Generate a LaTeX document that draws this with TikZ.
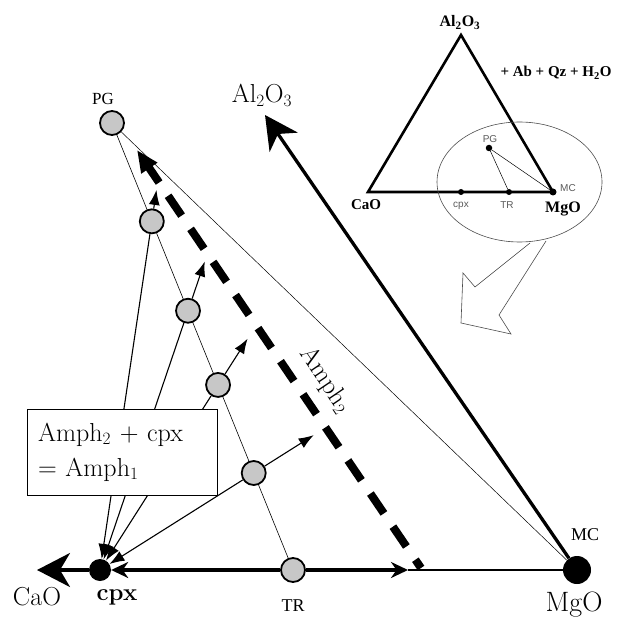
\documentclass[tikz,border=0pt]{standalone}
\usepackage{fontspec}
\newfontfamily\timesfont{Liberation Serif}
\newfontfamily\arialfont{Liberation Sans}
\usepackage{tikz}
\usetikzlibrary{arrows.meta, calc}

\begin{document}
\begin{tikzpicture}[
    x=1pt, y=-1pt,
    phase/.style={circle, draw, line width=1.8pt, fill=black!22, minimum size=24pt, inner sep=0pt},
    endmember/.style={circle, fill=black, inner sep=0pt},
    tie/.style={line width=0.6pt},
    reaction/.style={line width=1.1pt, -{Latex[length=15pt, width=11pt]}},
    axis/.style={line width=3.3pt, -{Stealth[length=33pt, width=34pt, inset=10pt]}},
    mainlabel/.style={font=\fontsize{26}{30}\selectfont, inner sep=0pt, anchor=base},
    insetlabel/.style={font=\timesfont\bfseries\fontsize{15}{17}\selectfont, inner sep=0pt, anchor=base},
    insetphase/.style={font=\arialfont\fontsize{10}{12}\selectfont, text=black!65, inner sep=0pt, anchor=base},
    dot/.style={circle, fill=black, inner sep=0pt, minimum size=6.5pt}
]
\useasboundingbox (0,0) rectangle (616,617);

% main diagram
\node[endmember, minimum size=22pt] (cpx) at (100,570) {};
\node[endmember, minimum size=28pt] (mgo) at (577,570) {};
\node[phase] (pg) at (112,123) {};
\node[phase] (tr) at (293,570) {};
\node[phase] (c1) at ($(pg)!0.22!(tr)$) {};
\node[phase] (c2) at ($(pg)!0.42!(tr)$) {};
\node[phase] (c3) at ($(pg)!0.586!(tr)$) {};
\node[phase] (c4) at ($(pg)!0.783!(tr)$) {};

\coordinate (caotip) at (37,570);
\coordinate (altip) at (265,115);
\coordinate (arrowend) at (408,570);
\coordinate (dashlow) at (421,568);
\coordinate (dashtop) at (137,150);
\coordinate (a1) at ($(cpx)!1.09!(c1)$);
\coordinate (a2) at ($(cpx)!1.19!(c2)$);
\coordinate (a3) at ($(cpx)!1.25!(c3)$);
\coordinate (a4) at ($(cpx)!1.39!(c4)$);

\draw[axis] (cpx) -- (caotip);
\draw[axis] (mgo) -- (altip);
\draw[line width=3.5pt, {Stealth[length=17pt, width=16pt]}-] (cpx) -- (tr);
\draw[line width=3.5pt, -{Stealth[length=17pt, width=16pt]}] (tr) -- (arrowend);
\draw[line width=2.8pt] (arrowend) -- (mgo);

\draw[tie] (pg) -- (c1) -- (c2) -- (c3) -- (c4) -- (tr);
\draw[tie, line width=0.5pt] (pg) -- (mgo);
\draw[line width=8pt, dash pattern=on 24pt off 16pt, dash phase=14pt,
      -{Triangle[length=22pt, width=18pt]}] (dashlow) -- (dashtop);

\draw[reaction] (c1) -- (a1);
\draw[reaction] (c1) -- (cpx);
\draw[reaction] (c2) -- (a2);
\draw[reaction] (c2) -- (cpx);
\draw[reaction] (c3) -- (a3);
\draw[reaction] (c3) -- (cpx);
\draw[reaction] (c4) -- (a4);
\draw[reaction] (c4) -- (cpx);

\node[font=\timesfont\fontsize{17}{17}\selectfont, inner sep=0pt, anchor=base] (pgname) at (103,105) {PG};
\node[font=\timesfont\fontsize{18}{18}\selectfont, inner sep=0pt, anchor=base] (trname) at (293,611) {TR};
\node[font=\timesfont\fontsize{18}{18}\selectfont, inner sep=0pt, anchor=base] (mcname) at (585,540) {MC};
\node[mainlabel] (alname) at (262,103) {Al$_2$O$_3$};
\node[mainlabel] (caoname) at (37,605) {CaO};
\node[mainlabel, font=\bfseries\fontsize{24}{28}\selectfont] (cpxname) at (117,600) {cpx};
\node[mainlabel, font=\fontsize{28}{30}\selectfont] (mgoname) at (574,611) {MgO};
\node[mainlabel, anchor=center, rotate=-56] (amphname) at (325,380) {Amph$_2$};

\node[draw, fill=white, line width=0.8pt, font=\fontsize{26}{35}\selectfont, align=left,
      text width=168pt, inner xsep=11pt, minimum height=86pt] (rxnbox) at (122,452)
      {Amph$_2$ + cpx\\= Amph$_1$};

% inset triangle
\coordinate (ialo) at (461,35);
\coordinate (icao) at (368,192);
\coordinate (imgo) at (553,192);
\draw[line width=2.6pt] (ialo) -- (icao) -- (imgo) -- cycle;

\node[dot] (ipg) at (489,148) {};
\node[dot, minimum size=6pt] (icpx) at (461,192) {};
\node[dot, minimum size=6pt] (itr) at (509,192) {};
\node[dot, minimum size=7pt] (imc) at (553,192) {};
\draw[line width=0.5pt] (ipg) -- (itr);
\draw[line width=0.5pt] (ipg) -- (imc);

\draw[line width=0.6pt, black!70] (519.5,182) ellipse [x radius=82.5pt, y radius=60pt];
\draw[line width=0.6pt, black!70] (530,243) -- (475,287) -- (463,273) -- (461,323)
      -- (511,334) -- (499,315) -- (546,241);

\node[insetlabel, font=\timesfont\bfseries\fontsize{16}{17}\selectfont] (ialname) at (460,27) {Al\textsubscript{2}O\textsubscript{3}};
\node[insetlabel, font=\timesfont\bfseries\fontsize{15}{17}\selectfont] (iextra) at (556,77) {+ Ab + Qz + H\textsubscript{2}O};
\node[insetlabel] (icaoname) at (366,210) {CaO};
\node[insetlabel, font=\timesfont\bfseries\fontsize{16}{17}\selectfont] (imgoname) at (563,213) {MgO};
\node[insetphase] (ipgname) at (490,143) {PG};
\node[insetphase] (icpxname) at (461,208) {cpx};
\node[insetphase] (itrname) at (507,209) {TR};
\node[insetphase] (imcname) at (568,192) {MC};

\end{tikzpicture}
\end{document}
